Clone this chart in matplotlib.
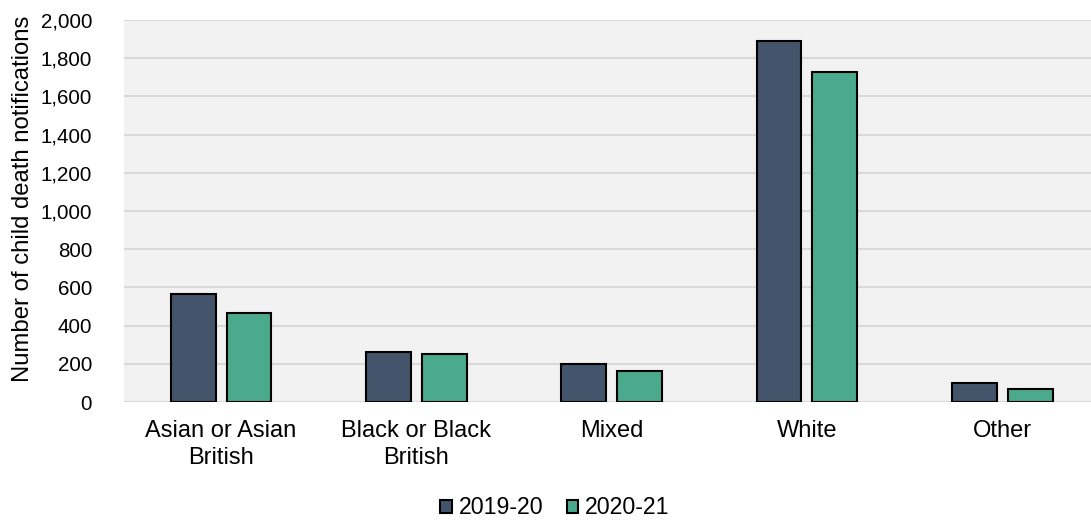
import matplotlib.pyplot as plt
import numpy as np
from matplotlib.ticker import FuncFormatter

plt.rcParams['font.family'] = ['Liberation Sans', 'DejaVu Sans']

# Data
categories = ['Asian or Asian\nBritish', 'Black or Black\nBritish', 'Mixed', 'White', 'Other']
series_names = ['2019-20', '2020-21']
vals_2019 = [564, 260, 199, 1888, 99]
vals_2020 = [467, 251, 162, 1730, 69]
colors = ['#44546A', '#4BAA8C']

fig = plt.figure(figsize=(10.91, 5.21), dpi=100)
ax = fig.add_axes([0.1137, 0.2284, 0.8863, 0.7332])
ax.set_facecolor('#F2F2F2')

x = np.arange(len(categories))
w = 0.23
off = 0.143
ax.bar(x - off, vals_2019, w, color=colors[0], edgecolor='black', linewidth=1.5,
       label=series_names[0], zorder=3)
ax.bar(x + off, vals_2020, w, color=colors[1], edgecolor='black', linewidth=1.5,
       label=series_names[1], zorder=3)

ax.set_ylim(0, 2000)
ax.set_xlim(-0.497, 4.455)
ax.set_yticks(range(0, 2001, 200))
ax.yaxis.set_major_formatter(FuncFormatter(lambda v, p: f'{int(v):,}'))
ax.grid(axis='y', color='#D9D9D9', linewidth=1.5, zorder=0)
ax.set_xticks(x)
ax.set_xticklabels(categories, fontsize=17, linespacing=1.31)
ax.tick_params(axis='both', length=0, colors='black')
ax.tick_params(axis='y', labelsize=14.8, pad=23)
ax.tick_params(axis='x', pad=13)
for s in ax.spines.values():
    s.set_visible(False)

fig.text(23 / 1091, 1 - 199 / 521, 'Number of child death notifications', rotation=90,
         ha='center', va='center', fontsize=17.2)

leg = fig.legend(loc='center', bbox_to_anchor=(555 / 1091, 13 / 521), ncol=2, frameon=False,
                 fontsize=16.7, handlelength=0.5, handleheight=0.5, handletextpad=0.3,
                 columnspacing=1.0)

fig.savefig('out.png', dpi=100)
